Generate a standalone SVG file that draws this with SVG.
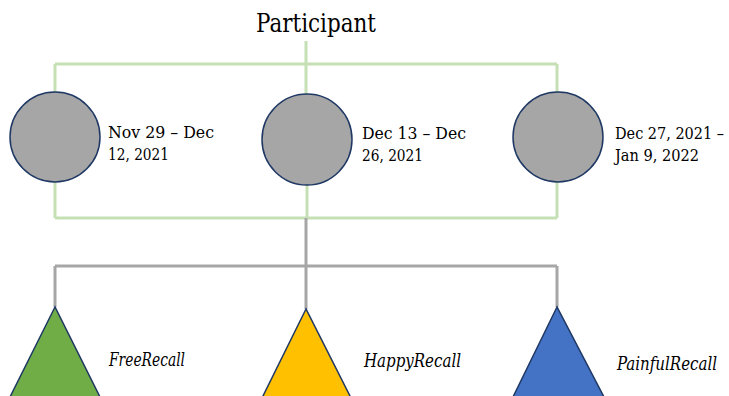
<svg xmlns="http://www.w3.org/2000/svg" width="729" height="396" viewBox="0 0 729 396">
<style>
.green{stroke:#C5E0B4;stroke-width:3;fill:none}
.gray{stroke:#A6A6A6;stroke-width:3;fill:none}
.circ{fill:#A6A6A6;stroke:#1F3864;stroke-width:1.5}
.tri{stroke:#1F3864;stroke-width:1.5}
.txt{font-family:'DejaVu Serif Condensed','DejaVu Serif',serif;font-stretch:condensed;fill:#000}
.date{font-size:17px}
.lab{font-size:18px;font-style:italic}
</style>
<rect width="729" height="396" fill="#fff"/>
<g id="connectors">
<path class="green" d="M306 41V64M55 64H557M55 64V92M306 64V94M557 64V92"/>
<path class="green" d="M55 182V218M307 185V218M557 182V218M55 218H557"/>
<path class="gray" d="M306 218V266M55 266H557M55 266V307M306 266V309M557 266V307"/>
</g>
<g id="participant">
<text class="txt" x="316" y="32" font-size="26" text-anchor="middle" textLength="120" lengthAdjust="spacingAndGlyphs">Participant</text>
</g>
<g id="period1">
<ellipse class="circ" cx="55" cy="137" rx="45" ry="45"/>
<text class="txt date" x="108" y="138" textLength="106" lengthAdjust="spacingAndGlyphs">Nov 29 – Dec</text>
<text class="txt date" x="108" y="160" textLength="61" lengthAdjust="spacingAndGlyphs">12, 2021</text>
</g>
<g id="period2">
<ellipse class="circ" cx="307" cy="139.5" rx="45" ry="45.5"/>
<text class="txt date" x="362" y="139" textLength="104" lengthAdjust="spacingAndGlyphs">Dec 13 – Dec</text>
<text class="txt date" x="362" y="161" textLength="61" lengthAdjust="spacingAndGlyphs">26, 2021</text>
</g>
<g id="period3">
<ellipse class="circ" cx="558" cy="137" rx="45" ry="45"/>
<text class="txt date" x="615" y="139" textLength="109" lengthAdjust="spacingAndGlyphs">Dec 27, 2021 –</text>
<text class="txt date" x="615" y="161" textLength="84" lengthAdjust="spacingAndGlyphs">Jan 9, 2022</text>
</g>
<g id="free">
<polygon class="tri" fill="#70AD47" points="55,307 10,397 100,397"/>
<text class="txt lab" x="109" y="366" textLength="76" lengthAdjust="spacingAndGlyphs">FreeRecall</text>
</g>
<g id="happy">
<polygon class="tri" fill="#FFC000" points="306,309 262,398 351,398"/>
<text class="txt lab" x="364" y="367" textLength="97" lengthAdjust="spacingAndGlyphs">HappyRecall</text>
</g>
<g id="painful">
<polygon class="tri" fill="#4472C4" points="557,307 513,397 604,397"/>
<text class="txt lab" x="617" y="370" textLength="100" lengthAdjust="spacingAndGlyphs">PainfulRecall</text>
</g>
</svg>
